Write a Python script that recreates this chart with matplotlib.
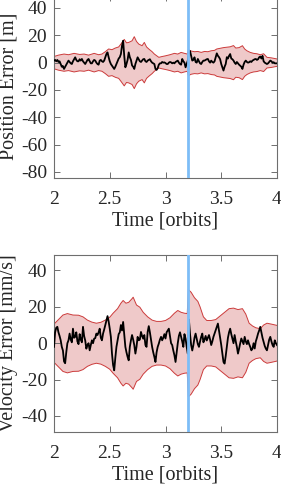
import numpy as np
import matplotlib
matplotlib.use("Agg")
import matplotlib.pyplot as plt

plt.rcParams['font.family'] = ['Liberation Serif', 'DejaVu Serif']

# ---------------- data ----------------
time = np.linspace(2.0, 4.0, 201)   # orbits, step 0.01
event_time = 3.2

pos_err = [
    1.5, 2, 1, 2, 0.5, 1, -1, -3, -2.5, -4.6,
    -3, -1.5, 0, 1.5, 0.5, -0.5, -1, 1, 2.5, 3.9,
    2, 1, 1, 2.5, 1.5, 2.7, 1, 0, -1, 0.5,
    2, 2.7, 1, -0.5, -0.5, 1, 2, 1.5, 0, -1,
    -1.5, 1.5, 2, 1, 0.5, 1.5, 4, 6.3, 7.5, 4,
    1, -1, -2.2, -3.5, -4.6, -3, -1, 1, 3, 4,
    6.3, 12.4, 16, 5, -3.4, -1, 2, 7.5, 4, 2,
    -2, -3, -4.6, -1, 1.5, 3.9, 2.5, 1, 0.5, 1.5,
    2.5, 2.7, 1, 0.5, 1.5, 2, 2.5, 1, 0, -0.5,
    -1, -4.6, -5.3, -4, -1.5, -0.5, -0.5, 0.5, 0, 0.2,
    -0.3, -1, -1, 0, 0.5, 0.2, -0.5, 0, -0.5, 0.5,
    1, 1.5, 0, -1, -1.5, 2.7, 1, 0, -3.4, -1,
    1.5, 7.5, 8.5, 5, 1.5, 2, 3.9, 0.5, 0, 2.7,
    1, -0.5, -1, 0.5, 1.5, 1.5, 2, 2.5, 2.7, 1,
    0, 1.5, 0.5, 0, 1, 3.9, 6.8, 5, 4, 2.5,
    -1, -3.4, -5.8, -3, -1, 4, 3, 5, 6.3, 3,
    2.5, 1.5, 0, -1, 0.5, -0.5, -1.5, -2.2, -3, -4.6,
    -1.5, 0.5, 1.5, 0.5, 0, 0.3, 1, 0.5, 1.5, 2,
    2.5, 2.7, 2, 2.5, 3.9, 4.5, 3, 5, 1, 0,
    -0.5, -1, -0.5, 0.5, 1.5, 1, 0, 0.3, -0.5, -0.5,
    -0.5,
]

pos_env_t = [2.00, 2.04, 2.09, 2.13, 2.18, 2.23, 2.27, 2.31, 2.36, 2.40,
             2.43, 2.46, 2.49, 2.52, 2.55, 2.58, 2.60, 2.63, 2.65, 2.67,
             2.70, 2.72, 2.74, 2.76, 2.79, 2.81, 2.83, 2.85, 2.88, 2.90,
             2.94, 2.97, 3.00, 3.04, 3.08, 3.11, 3.14, 3.17, 3.195, 3.205,
             3.23, 3.26, 3.29, 3.32, 3.35, 3.38, 3.41, 3.44, 3.46, 3.49,
             3.52, 3.55, 3.58, 3.61, 3.63, 3.66, 3.69, 3.71, 3.73, 3.76,
             3.79, 3.82, 3.85, 3.88, 3.91, 3.95, 4.00]
pos_env = [4.5, 5.5, 6.3, 5.8, 6.8, 6.0, 6.3, 5.5, 6.8, 5.8,
           6.3, 8.0, 10.0, 9.5, 10.7, 11.5, 13.6, 17.0, 14.5, 14.8,
           16.0, 19.0, 15.5, 13.6, 12.4, 14.8, 11.5, 10.0, 8.0, 6.3,
           3.9, 4.5, 5.0, 5.8, 6.8, 6.3, 7.5, 6.8, 6.3, 9.5,
           8.5, 8.0, 8.2, 7.5, 8.2, 8.0, 8.7, 9.0, 10.0, 10.5,
           11.0, 11.3, 11.6, 12.5, 10.7, 11.0, 12.4, 10.0, 8.7, 7.5,
           6.8, 6.5, 5.8, 6.5, 3.9, 3.5, 2.7]

vel_err = [
    -2, 6, 8.5, 9, 6, 4, 1.6, -2, -4, -10,
    -11, -5, 0, 1.6, 5.3, 2, 0.5, 8, 3, 3.5,
    6, 1, -0.5, 5, 2, 0.5, 9, 4, 1.5, -3,
    -1, 0, -3.9, -1, 1.6, 0, 2.5, 2.8, 5.3, 4.5,
    6, 8, 3, 1.6, 5.3, 7.5, 10, 12.7, 14.9, 12,
    8, 3.5, -5.7, -12, -14.9, -8, -2, 1.6, 5, 6,
    10, 7, 11.7, 5, -2, -5, -7.5, -9.4, -2, 1.6,
    4.5, 2, -1, -5.7, -2, 3.5, 1.6, 2, 6.2, 4,
    2.5, 4.5, -1, -2, 6.2, 9.4, 6, 2, -2, -5,
    -7.5, -10.3, -5, -2, -0.2, 2, 3.5, 1.6, 3, 5,
    2.6, 6, 7, 8, 4, 0, -1, -4, -6.6, -10.3,
    -5, 0, 4, 6, 3.5, 1, -2, 5, 2.5, -2,
    -5.7, 13, 5, -1, -4, -1, 3, 5.3, 2.5, -0.5,
    -2, 1, 3.5, 5.3, 0.5, 2, 4, 1.5, 3, 4.5,
    2, -1, 1, 3.5, 5.3, 7, 9, 10.8, 7, 3,
    -1, -5.7, -10.3, -11.2, -7, -2, 3, 6, 8, 5,
    2.6, 0, 4.5, 1, -2, -5.7, -3, 0, 2.6, 1,
    -0.5, 3.5, 1, -0.5, 1.6, -0.5, -2, -3.9, -3, 0,
    -2.9, 1, 3, 5.3, 7, 9, 6, 3, 0.7, -1.5,
    -3, -3.9, -1, 2, 3.5, 1, -1, -2, 1.6, 0,
    -1,
]

vel_env_t = [2.00, 2.04, 2.08, 2.12, 2.17, 2.22, 2.26, 2.30, 2.34, 2.38,
             2.42, 2.46, 2.50, 2.53, 2.57, 2.60, 2.62, 2.645, 2.67, 2.70,
             2.71, 2.74, 2.77, 2.80, 2.84, 2.88, 2.92, 2.96, 3.00, 3.04,
             3.08, 3.11, 3.14, 3.17, 3.195, 3.205, 3.23, 3.26, 3.29, 3.31,
             3.34, 3.37, 3.41, 3.45, 3.49, 3.53, 3.57, 3.61, 3.65, 3.69,
             3.72, 3.75, 3.78, 3.81, 3.85, 3.88, 3.91, 3.95, 4.00]
vel_env = [10.5, 13, 15.5, 16.3, 15.5, 15.4, 14.5, 12.7, 11.6, 11,
           11.5, 12.7, 14.3, 16.5, 19, 22, 23.5, 22, 22.5, 24.5,
           25.3, 21, 19.8, 17, 14.5, 12.7, 12, 12, 12.5, 14,
           16.5, 18, 17, 16.5, 16.3, 29.5, 28, 25, 23, 20,
           14.5, 12.5, 12.5, 13, 15, 17, 19, 19.3, 18.5, 19,
           16, 11, 9.5, 8.5, 8, 10, 11, 10.5, 9.8]

x_ticks = [2, 2.5, 3, 3.5, 4]
x_tick_labels = ["2", "2.5", "3", "3.5", "4"]
pos_yticks = [-80, -60, -40, -20, 0, 20, 40]
vel_yticks = [-40, -20, 0, 20, 40]

# ---------------- style ----------------
FILL = '#EFC9C9'
EDGE = '#CC3B3B'
BLUE = '#7DBDF7'
AX_COL = '#6E6E6E'
TXT = '#262626'
FS = 14

W, H = 281, 484
fig = plt.figure(figsize=(W / 100, H / 100), dpi=100)

def px_axes(left, top, right, bottom):
    return fig.add_axes([left / W, 1 - bottom / H, (right - left) / W, (bottom - top) / H])

ax1 = px_axes(54, -5, 277, 178)
ax2 = px_axes(54, 255, 277, 432)

def draw(ax, t_env, env, series, ylim, yticks, ylabel):
    t_env = np.asarray(t_env)
    env = np.asarray(env)
    ax.fill_between(t_env, -env, env, facecolor=FILL, edgecolor='none', zorder=1)
    ax.plot(t_env, env, color=EDGE, lw=0.7, zorder=2)
    ax.plot(t_env, -env, color=EDGE, lw=0.7, zorder=2)
    ax.plot(time, series, color='black', lw=1.3, zorder=3)
    ax.axvline(event_time, color=BLUE, lw=2.0, zorder=4)
    ax.set_xlim(2, 4)
    ax.set_ylim(*ylim)
    ax.set_xticks(x_ticks)
    ax.set_xticklabels(x_tick_labels)
    ax.set_yticks(yticks)
    ax.set_yticklabels([str(v) for v in yticks])
    ax.tick_params(direction='in', top=True, right=True, length=4, width=0.7,
                   color=AX_COL, labelcolor=TXT, labelsize=FS)
    ax.tick_params(axis='y', pad=5)
    ax.tick_params(axis='x', pad=9)
    for s in ax.spines.values():
        s.set_color(AX_COL)
        s.set_linewidth(0.8)
    ax.set_xlabel('Time [orbits]', fontsize=FS + 0.5, color=TXT, labelpad=3)
    ax.set_ylabel(ylabel, fontsize=FS + 0.5, color=TXT, labelpad=2)

draw(ax1, pos_env_t, pos_env, pos_err, (-84.4, 49.5), pos_yticks, 'Position Error [m]')
draw(ax2, vel_env_t, vel_env, vel_err, (-48.8, 48.5), vel_yticks, 'Velocity Error [mm/s]')

fig.savefig('out.png', dpi=100)
